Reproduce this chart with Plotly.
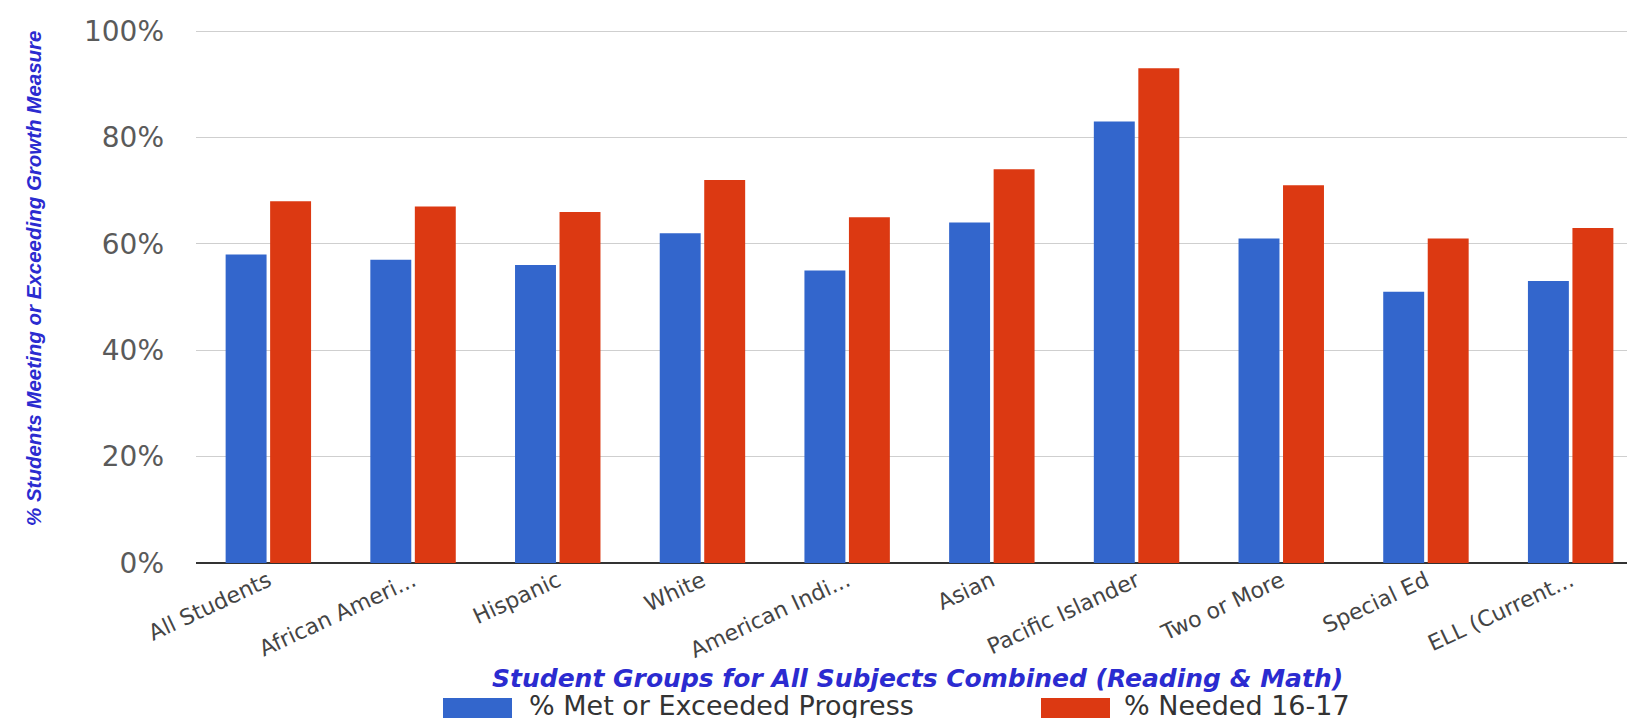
import plotly.graph_objects as go

categories = ["All Students", "African Ameri...", "Hispanic", "White", "American Indi...",
              "Asian", "Pacific Islander", "Two or More", "Special Ed", "ELL (Current..."]
met_progress = [58, 57, 56, 62, 55, 64, 83, 61, 51, 53]
needed_1617 = [68, 67, 66, 72, 65, 74, 93, 71, 61, 63]
series_names = ["% Met or Exceeded Progress", "% Needed 16-17"]
y_ticks = [0, 20, 40, 60, 80, 100]
y_tick_labels = ["0%", "20%", "40%", "60%", "80%", "100%"]

BLUE = "#3366cc"
RED = "#dc3912"
W, H = 1635, 718
L, R, T, B = 188, 0, 22, 163
PW, PH = W - L - R, H - T - B


def px_x(px):
    return (px - L) / PW


def px_y(py):
    return (H - B - py) / PH


fig = go.Figure()
fig.add_trace(go.Bar(x=categories, y=met_progress, name=series_names[0],
                     marker=dict(color=BLUE, line=dict(width=0))))
fig.add_trace(go.Bar(x=categories, y=needed_1617, name=series_names[1],
                     marker=dict(color=RED, line=dict(width=0))))

fig.update_layout(
    width=W, height=H,
    margin=dict(l=L, r=R, t=T, b=B, pad=0),
    paper_bgcolor="white", plot_bgcolor="white",
    barmode="group", bargap=0.385, bargroupgap=0.08,
    showlegend=False,
    font=dict(family="DejaVu Sans", color="#444"),
)
fig.update_xaxes(
    tickangle=-25, tickfont=dict(family="DejaVu Sans", size=22, color="#444"),
    showline=False, showgrid=False, ticks="",
)
fig.update_yaxes(
    range=[0, 100.2], tickmode="array", tickvals=y_ticks, ticktext=y_tick_labels,
    tickfont=dict(family="DejaVu Sans", size=28, color="#5a5a5a"),
    gridcolor="#cfcfcf", gridwidth=1,
    zeroline=True, zerolinecolor="#333", zerolinewidth=1.5,
    ticks="", ticklabelstandoff=31, showline=False,
    ticklabeloverflow="allow",
)

# axis titles
fig.add_annotation(
    text="<b><i>Student Groups for All Subjects Combined (Reading & Math)</i></b>",
    xref="paper", yref="paper", x=px_x(909), y=px_y(670),
    xanchor="center", yanchor="middle", showarrow=False,
    font=dict(family="DejaVu Sans", size=25, color="#2b2bd0"),
)
fig.add_annotation(
    text="<b><i>% Students Meeting or Exceeding Growth Measure</i></b>",
    xref="paper", yref="paper", x=px_x(25), y=px_y(270),
    xanchor="center", yanchor="middle", showarrow=False, textangle=-90,
    font=dict(family="Liberation Sans", size=20.5, color="#2b2bd0"),
)

# legend (manual, large swatches)
legend_items = [(BLUE, 435, 504, 520, series_names[0]), (RED, 1033, 1102, 1115, series_names[1])]
for color, sx0, sx1, tx, label in legend_items:
    fig.add_shape(type="rect", xref="paper", yref="paper",
                  x0=px_x(sx0), x1=px_x(sx1), y0=px_y(722), y1=px_y(690),
                  fillcolor=color, line=dict(width=0), layer="above")
    fig.add_annotation(text=label, xref="paper", yref="paper",
                       x=px_x(tx), y=px_y(697), xanchor="left", yanchor="middle",
                       showarrow=False, borderpad=0,
                       font=dict(family="DejaVu Sans", size=27, color="#333"))

fig.write_html("out.html")
